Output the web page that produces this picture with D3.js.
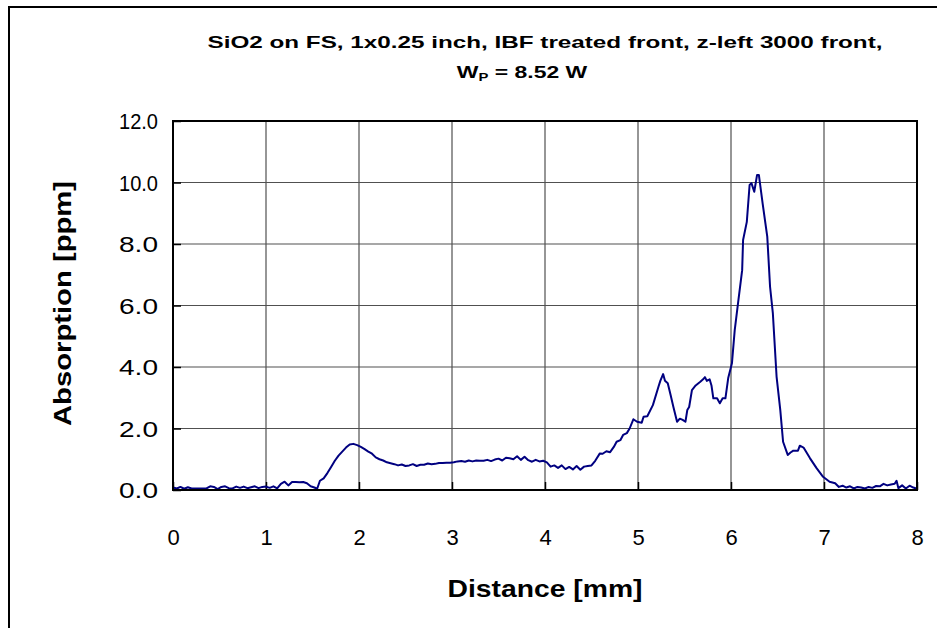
<!DOCTYPE html>
<html>
<head>
<meta charset="utf-8">
<script src="https://cdn.jsdelivr.net/npm/d3@7"></script>
<style>
  html, body { margin: 0; padding: 0; background: #fff; }
  svg { display: block; font-family: "Liberation Sans", Arial, sans-serif; }
</style>
</head>
<body>
<svg id="chart" width="937" height="628"></svg>
<script>
// Absorption profile along the sample (distance in mm, absorption in ppm)
const distance = [
  0.00,0.04,0.08,0.12,0.16,0.20,0.24,0.28,0.32,0.36,0.40,0.44,0.48,0.52,0.56,0.60,0.64,0.68,0.72,0.76,
  0.80,0.84,0.88,0.92,0.96,1.00,1.04,1.08,1.12,1.16,1.20,1.24,1.28,1.32,1.36,1.40,1.44,1.48,1.52,1.55,
  1.58,1.62,1.66,1.70,1.74,1.78,1.82,1.86,1.90,1.94,1.98,2.02,2.06,2.10,2.14,2.18,2.22,2.26,2.30,2.34,
  2.38,2.42,2.46,2.50,2.54,2.58,2.62,2.66,2.70,2.74,2.78,2.82,2.86,2.90,2.94,2.98,3.02,3.06,3.10,3.14,
  3.18,3.22,3.26,3.30,3.34,3.38,3.42,3.46,3.50,3.54,3.58,3.62,3.66,3.70,3.74,3.78,3.82,3.86,3.90,3.94,
  3.98,4.02,4.06,4.10,4.14,4.18,4.22,4.26,4.30,4.34,4.38,4.42,4.46,4.50,4.54,4.59,4.62,4.66,4.70,4.74,
  4.77,4.81,4.84,4.88,4.91,4.95,4.99,5.04,5.06,5.10,5.16,5.22,5.24,5.27,5.29,5.32,5.35,5.38,5.42,5.45,
  5.48,5.51,5.53,5.55,5.58,5.62,5.67,5.70,5.72,5.74,5.77,5.79,5.81,5.85,5.88,5.91,5.94,5.97,6.01,6.04,
  6.08,6.12,6.13,6.17,6.20,6.22,6.25,6.28,6.30,6.34,6.39,6.42,6.45,6.49,6.53,6.56,6.61,6.64,6.67,6.72,
  6.74,6.78,6.85,6.92,6.99,7.06,7.12,7.16,7.20,7.24,7.28,7.32,7.36,7.40,7.44,7.48,7.52,7.56,7.60,7.64,
  7.68,7.72,7.76,7.78,7.80,7.84,7.88,7.92,7.96,8.00
];
const absorption = [
  0.08,0.05,0.10,0.04,0.09,0.05,0.05,0.05,0.05,0.05,0.12,0.10,0.03,0.10,0.12,0.06,0.05,0.11,0.07,0.11,
  0.06,0.09,0.12,0.06,0.10,0.11,0.07,0.12,0.05,0.20,0.27,0.15,0.26,0.26,0.25,0.26,0.22,0.12,0.08,0.04,
  0.30,0.38,0.55,0.75,0.95,1.12,1.25,1.38,1.48,1.50,1.46,1.40,1.33,1.25,1.18,1.06,1.00,0.96,0.90,0.87,
  0.84,0.80,0.83,0.78,0.80,0.84,0.78,0.82,0.82,0.86,0.84,0.85,0.88,0.88,0.89,0.89,0.90,0.93,0.94,0.92,
  0.96,0.93,0.96,0.95,0.95,0.98,0.94,0.99,1.02,0.96,1.05,1.03,1.00,1.10,0.98,1.08,0.97,0.92,0.98,0.93,
  0.95,0.90,0.76,0.80,0.72,0.80,0.68,0.75,0.67,0.78,0.66,0.76,0.78,0.80,0.95,1.19,1.18,1.26,1.23,1.40,
  1.57,1.62,1.79,1.85,2.00,2.30,2.22,2.19,2.38,2.40,2.76,3.36,3.55,3.77,3.55,3.47,3.10,2.71,2.22,2.32,
  2.28,2.22,2.60,2.70,3.25,3.40,3.52,3.60,3.67,3.55,3.60,3.40,2.98,2.98,2.82,2.98,2.98,3.64,4.12,5.20,
  6.18,7.15,8.13,8.72,9.92,9.98,9.70,10.24,10.24,9.32,8.24,6.61,5.75,3.69,2.60,1.57,1.14,1.22,1.28,1.28,
  1.44,1.38,1.03,0.71,0.43,0.27,0.22,0.10,0.14,0.08,0.12,0.05,0.10,0.08,0.05,0.10,0.07,0.13,0.12,0.20,
  0.15,0.18,0.20,0.30,0.06,0.15,0.05,0.14,0.08,0.04
];
const xTicks = [0, 1, 2, 3, 4, 5, 6, 7, 8];
const yTicks = [0, 2, 4, 6, 8, 10, 12];
const titleLine1 = "SiO2 on FS, 1x0.25 inch, IBF treated front, z-left 3000 front,";
const xTitle = "Distance [mm]";
const yTitle = "Absorption [ppm]";

const svg = d3.select("#chart");
const plot = { left: 173, top: 121, right: 917, bottom: 490 };

const x = d3.scaleLinear().domain([0, 8]).range([plot.left, plot.right]);
const y = d3.scaleLinear().domain([0, 12]).range([plot.bottom, plot.top]);

// outer chart frame
svg.append("rect")
  .attr("x", 9).attr("y", 7)
  .attr("width", 940).attr("height", 640)
  .attr("fill", "none").attr("stroke", "#000").attr("stroke-width", 2);

// gridlines
const grid = svg.append("g");
grid.selectAll("line.gx").data(xTicks.slice(1, -1)).join("line")
  .attr("x1", d => x(d)).attr("x2", d => x(d))
  .attr("y1", plot.top).attr("y2", plot.bottom)
  .attr("stroke", "#505050").attr("stroke-width", 1.2);
grid.selectAll("line.gy").data(yTicks.slice(1, -1)).join("line")
  .attr("x1", plot.left).attr("x2", plot.right)
  .attr("y1", d => y(d)).attr("y2", d => y(d))
  .attr("stroke", "#505050").attr("stroke-width", 1.2);

// axes with inward ticks
const xAxis = d3.axisBottom(x).tickValues(xTicks).tickFormat(d3.format("d"))
  .tickSizeInner(-8).tickSizeOuter(0).tickPadding(0);
const yAxis = d3.axisLeft(y).tickValues(yTicks).tickFormat(d3.format(".1f"))
  .tickSizeInner(-8).tickSizeOuter(0).tickPadding(0);

const gx = svg.append("g").attr("transform", `translate(0,${plot.bottom})`).call(xAxis);
gx.select(".domain").remove();
gx.selectAll(".tick line").attr("stroke", "#000").attr("stroke-width", 1.5);
gx.selectAll(".tick text")
  .attr("y", 55).attr("dy", 0)
  .attr("font-size", 22).attr("fill", "#000")
  .attr("font-family", "Liberation Sans, Arial, sans-serif");

const gy = svg.append("g").attr("transform", `translate(${plot.left},0)`).call(yAxis);
gy.select(".domain").remove();
gy.selectAll(".tick line").attr("stroke", "#000").attr("stroke-width", 1.5);
gy.selectAll(".tick text")
  .attr("x", -15).attr("dy", "0.36em")
  .attr("font-size", 22).attr("fill", "#000")
  .attr("textLength", 39).attr("lengthAdjust", "spacingAndGlyphs")
  .attr("font-family", "Liberation Sans, Arial, sans-serif");

// data line
const line = d3.line().x((d, i) => x(distance[i])).y(d => y(d));
svg.append("path")
  .datum(absorption)
  .attr("d", line)
  .attr("fill", "none")
  .attr("stroke", "#000080")
  .attr("stroke-width", 2)
  .attr("stroke-linejoin", "round");

// plot frame
svg.append("rect")
  .attr("x", plot.left).attr("y", plot.top)
  .attr("width", plot.right - plot.left).attr("height", plot.bottom - plot.top)
  .attr("fill", "none").attr("stroke", "#000").attr("stroke-width", 2);

// title
const cx = (plot.left + plot.right) / 2;
svg.append("text")
  .attr("x", cx).attr("y", 48)
  .attr("text-anchor", "middle")
  .attr("font-size", 17).attr("font-weight", "bold")
  .attr("textLength", 675).attr("lengthAdjust", "spacingAndGlyphs")
  .text(titleLine1);
const t2 = svg.append("text")
  .attr("transform", `translate(${cx - 23},78) scale(1.35,1)`)
  .attr("text-anchor", "middle")
  .attr("font-size", 17).attr("font-weight", "bold");
t2.append("tspan").text("W");
t2.append("tspan").attr("font-size", 11).attr("dy", 3).text("P");
t2.append("tspan").attr("dy", -3).text(" = 8.52 W");

// axis titles
svg.append("text")
  .attr("x", cx).attr("y", 597)
  .attr("text-anchor", "middle")
  .attr("font-size", 24).attr("font-weight", "bold")
  .attr("textLength", 195).attr("lengthAdjust", "spacingAndGlyphs")
  .text(xTitle);
svg.append("text")
  .attr("transform", `translate(71,${(plot.top + plot.bottom) / 2 - 2}) rotate(-90)`)
  .attr("text-anchor", "middle")
  .attr("font-size", 24).attr("font-weight", "bold")
  .attr("textLength", 245).attr("lengthAdjust", "spacingAndGlyphs")
  .text(yTitle);
</script>
</body>
</html>
